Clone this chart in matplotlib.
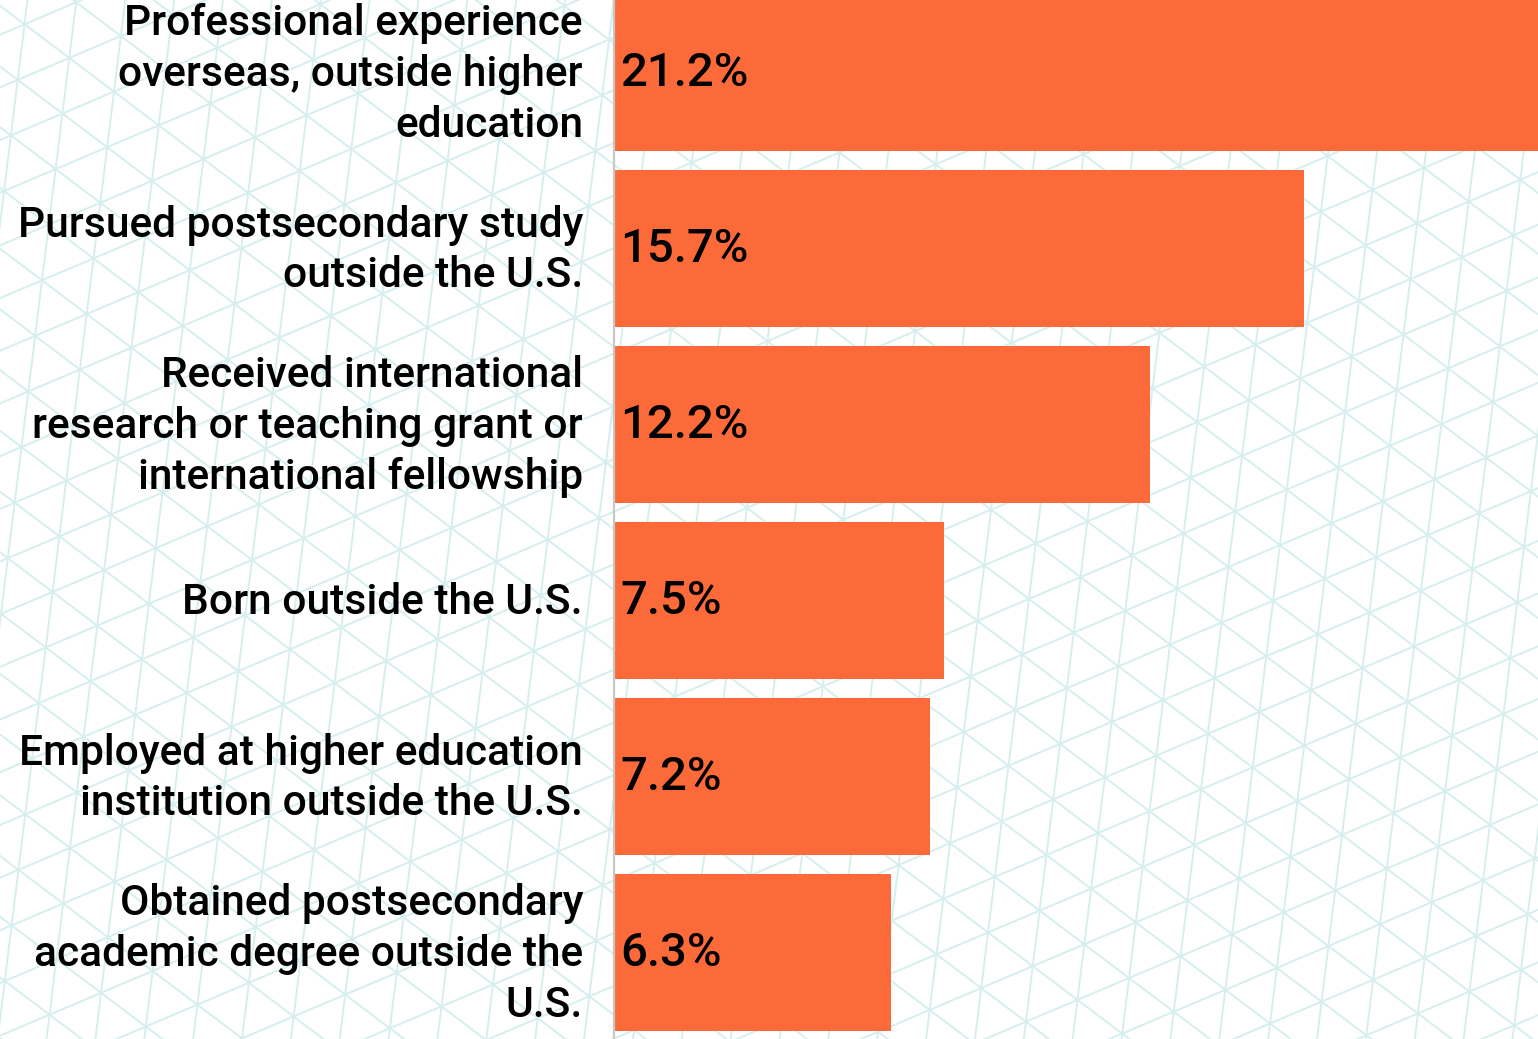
import numpy as np
import matplotlib
matplotlib.use("Agg")
import matplotlib.pyplot as plt

categories = [
    "Professional experience\noverseas, outside higher\neducation",
    "Pursued postsecondary study\noutside the U.S.",
    "Received international\nresearch or teaching grant or\ninternational fellowship",
    "Born outside the U.S.",
    "Employed at higher education\ninstitution outside the U.S.",
    "Obtained postsecondary\nacademic degree outside the\nU.S.",
]
values = [21.2, 15.7, 12.2, 7.5, 7.2, 6.3]
value_labels = ["21.2%", "15.7%", "12.2%", "7.5%", "7.2%", "6.3%"]

BAR_COLOR = "#FD6A3A"
GRID_COLOR = "#d6efee"
W, H = 1538, 1039

plt.rcParams['font.family'] = ['Roboto', 'DejaVu Sans']

fig = plt.figure(figsize=(W / 100, H / 100), dpi=100)
fig.patch.set_facecolor("white")

# decorative triangular lattice background
bg = fig.add_axes([0, 0, 1, 1], zorder=0)
bg.set_xlim(0, W)
bg.set_ylim(H, 0)
bg.axis("off")
v0 = np.array([1311.0, 690.0])
d = 48.5
for ang in (-83.0, -23.0, 37.0):
    a = np.deg2rad(ang)
    u = np.array([np.cos(a), np.sin(a)])
    n = np.array([-np.sin(a), np.cos(a)])
    for k in range(-60, 61):
        p = v0 + k * d * n
        p1 = p - 3000 * u
        p2 = p + 3000 * u
        bg.plot([p1[0], p2[0]], [p1[1], p2[1]], color=GRID_COLOR, lw=1.4,
                solid_capstyle="butt")

left = 614 / W
ax = fig.add_axes([left, 0, 1 - left, 1], zorder=1)
ax.set_facecolor("none")
y = np.arange(len(values))
ax.barh(y, values, height=0.892, color=BAR_COLOR, zorder=2)
ax.set_xlim(0, (W - 614) / 43.95)
ax.set_ylim((H - 72.5) / 176, -72.5 / 176)

for s in ("top", "right", "bottom"):
    ax.spines[s].set_visible(False)
ax.spines["left"].set_color("#c8c8c8")
ax.spines["left"].set_linewidth(1.6)
ax.spines["left"].set_zorder(3)
ax.set_xticks([])
ax.set_yticks([])

for yi, lab in zip(y, categories):
    ax.annotate(lab, xy=(0, yi), xytext=(-31, -2), textcoords="offset pixels",
                ha="right", va="center", fontsize=30.6, fontweight="medium",
                linespacing=1.31, color="black", annotation_clip=False)

for yi, lab in zip(y, value_labels):
    ax.annotate(lab, xy=(0, yi), xytext=(6, 0), textcoords="offset pixels",
                ha="left", va="center", fontsize=34, fontweight="medium",
                color="black", zorder=4)

fig.savefig("out.png", dpi=100, facecolor="white")
